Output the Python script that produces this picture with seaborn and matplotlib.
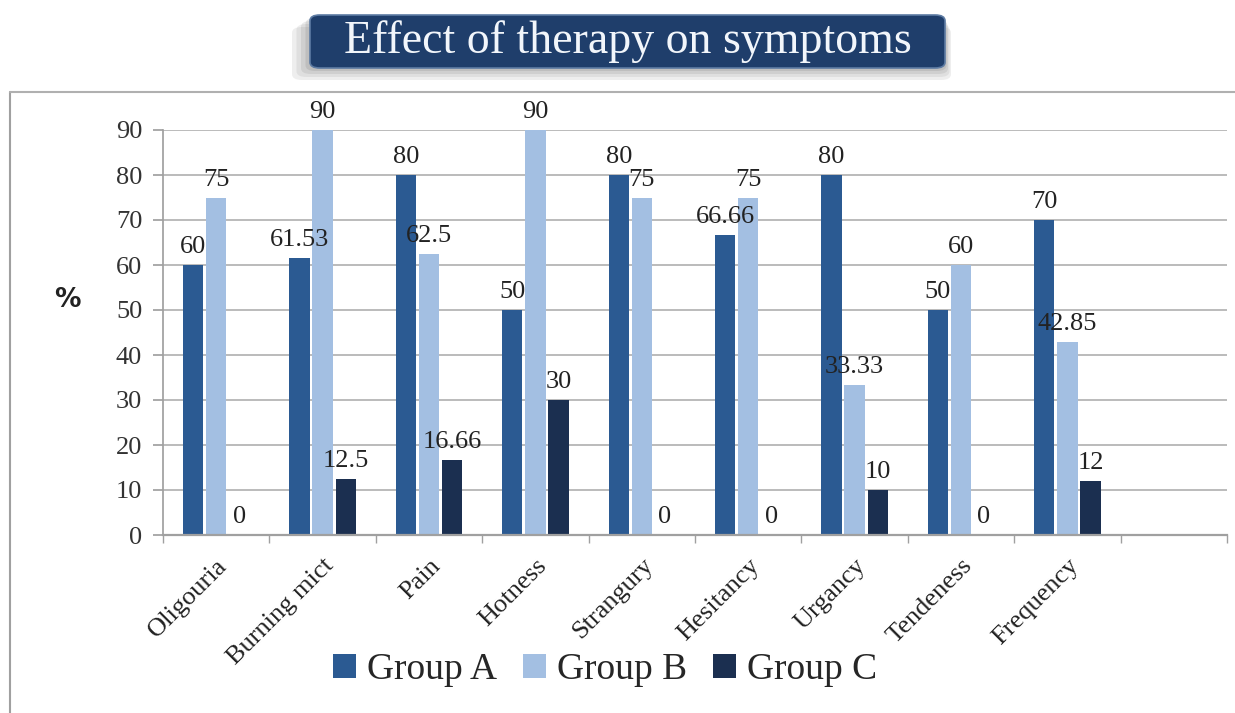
import numpy as np
import pandas as pd
import matplotlib
matplotlib.use("Agg")
import matplotlib.pyplot as plt
import seaborn as sns
from matplotlib.patches import FancyBboxPatch
from matplotlib.lines import Line2D

# ---- data ----
categories = ["Oligouria", "Burning mict", "Pain", "Hotness", "Strangury",
              "Hesitancy", "Urgancy", "Tendeness", "Frequency"]
groups = ["Group A", "Group B", "Group C"]
group_a = [60, 61.53, 80, 50, 80, 66.66, 80, 50, 70]
group_b = [75, 90, 62.5, 90, 75, 75, 33.33, 60, 42.85]
group_c = [0, 12.5, 16.66, 30, 0, 0, 10, 0, 12]
y_ticks = [0, 10, 20, 30, 40, 50, 60, 70, 80, 90]
title = "Effect of therapy on symptoms"
colors = ["#2b5a92", "#a3bfe2", "#1b2f50"]

df = pd.DataFrame({
    "Symptom": categories * 3,
    "Group": np.repeat(groups, len(categories)),
    "Value": group_a + group_b + group_c,
})

sns.set_theme(style="white")
plt.rcParams["font.family"] = ["Liberation Serif", "DejaVu Serif"]

W, H = 1235, 713
fig = plt.figure(figsize=(W / 100, H / 100), dpi=100)
fig.patch.set_facecolor("white")
ax = fig.add_axes([163 / W, 1 - 535 / H, (1227 - 163) / W, 405 / H])

sns.barplot(data=df, x="Symptom", y="Value", hue="Group", order=categories,
            hue_order=groups, palette=dict(zip(groups, colors)), width=0.65,
            gap=0.12, saturation=1, linewidth=0, ax=ax, legend=True)

for c in ax.containers:
    ax.bar_label(c, fmt=lambda v: f"{v:g}", padding=5, fontsize=19, color="#222222")

ax.set_xlim(-0.5, 9.5)
ax.set_ylim(0, 90)
ax.set_yticks(y_ticks)
ax.set_yticklabels([str(t) for t in y_ticks], fontsize=19, color="#333333")
ax.yaxis.grid(True, color="#a8a8a8", lw=1.1)
ax.set_axisbelow(True)
ax.tick_params(axis="y", length=7, color="#a0a0a0", direction="out", left=True, pad=8)

ax.set_xticks(range(len(categories)))
ax.set_xticklabels(categories, rotation=45, ha="right", rotation_mode="anchor",
                   fontsize=19, color="#222222")
ax.tick_params(axis="x", which="major", length=0, pad=14)
ax.set_xticks(np.arange(-0.5, 10, 1), minor=True)
ax.tick_params(axis="x", which="minor", length=6, color="#a0a0a0", direction="out", bottom=True)
ax.set_xlabel("")

ax.set_ylabel("%", rotation=0, fontsize=19, fontweight="bold",
              family="DejaVu Sans", color="#222222", va="center", ha="center")
ax.yaxis.set_label_coords((67 - 163) / (1227 - 163), (535 - 300) / 405)

for s in ["top", "right"]:
    ax.spines[s].set_visible(False)
ax.spines["left"].set_color("#a0a0a0")
ax.spines["bottom"].set_color("#a0a0a0")
ax.spines["bottom"].set_linewidth(1.6)

leg = ax.legend(loc="center", bbox_to_anchor=(605 / W, 1 - 670 / H),
                bbox_transform=fig.transFigure, ncol=3, frameon=False,
                fontsize=27, handlelength=0.6, handleheight=0.6,
                handletextpad=0.3, columnspacing=0.7)

# chart frame
fig.add_artist(Line2D([10 / W, 10 / W], [0, 1 - 92 / H], transform=fig.transFigure,
                      color="#a0a0a0", lw=1.5))
fig.add_artist(Line2D([10 / W, 1], [1 - 92 / H, 1 - 92 / H], transform=fig.transFigure,
                      color="#b0b0b0", lw=1.5))

# title box with shadow
bx, by, bw, bh = 310 / W, 1 - 68 / H, (945 - 310) / W, 53 / H
for i, a in enumerate([0.10, 0.10, 0.12, 0.15]):
    off = (4 - i) * 3
    sh = FancyBboxPatch((bx - 1.5 * off / W, by - off / H), bw + 2 * off / W, bh,
                        boxstyle="round,pad=0,rounding_size=0.008",
                        transform=fig.transFigure, facecolor="#606060",
                        edgecolor="none", alpha=a)
    fig.add_artist(sh)
box = FancyBboxPatch((bx, by), bw, bh, boxstyle="round,pad=0,rounding_size=0.008",
                     transform=fig.transFigure, facecolor="#1f3e6b",
                     edgecolor="#5d7ba3", lw=1.2)
fig.add_artist(box)
fig.text(628 / W, 1 - 42 / H, title, color="#f2f6fb", fontsize=33,
         ha="center", va="center")

fig.savefig("out.png", dpi=100)
